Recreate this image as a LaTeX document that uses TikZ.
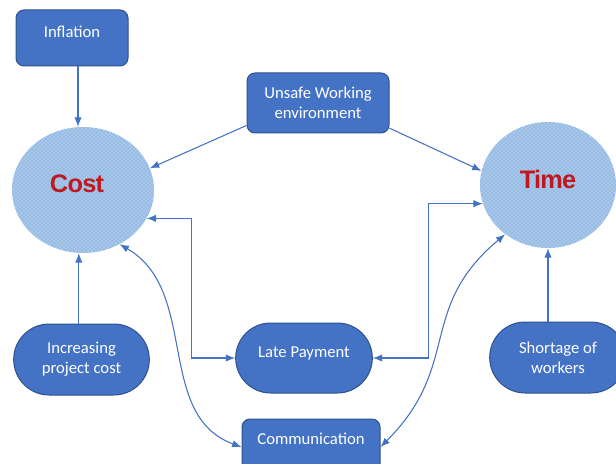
\documentclass[tikz,border=0pt]{standalone}
\usepackage{fontspec}
\setmainfont{Carlito}
\newfontfamily\bigfont[LetterSpace=-3]{Liberation Sans}
\usetikzlibrary{shapes.geometric,shapes.misc,arrows.meta,patterns}

\definecolor{boxblue}{RGB}{68,114,196}
\definecolor{boxedge}{RGB}{47,82,143}
\definecolor{ballblue}{RGB}{150,188,228}
\definecolor{darkred}{RGB}{192,24,32}

\tikzset{
  box/.style={draw=boxedge,fill=boxblue,line width=0.75pt,text=white,rounded corners=6pt,
    align=center,inner sep=2pt,font=\fontsize{12.5}{15}\selectfont},
  pill/.style={box,rounded corners=0pt,rounded rectangle},
  ball/.style={ellipse,fill=ballblue,inner sep=0pt,
    postaction={pattern=crosshatch dots,pattern color=white!80!ballblue},
    text=darkred,font=\bigfont\bfseries\fontsize{19}{22}\selectfont},
  conn/.style={draw=boxblue,line width=0.8pt,-{Latex[length=7pt,width=5.5pt]}},
  both/.style={conn,{Latex[length=7pt,width=5.5pt]}-{Latex[length=7pt,width=5.5pt]}}
}

\begin{document}
\begin{tikzpicture}[x=0.75pt,y=-0.75pt]
	\useasboundingbox (0,0) rectangle (616,463);
	% the two outcomes
	\node [ball,minimum width=106.5pt,minimum height=94.5pt] (cost) at (83,190) {\raisebox{10pt}{Cost\hspace*{9pt}}};
	\node [ball,minimum width=102pt,minimum height=94.5pt] (time) at (548,185) {\raisebox{8pt}{Time}};
	% causes
	\node [box,minimum width=84pt,minimum height=42pt] (infl) at (72,38) {\raisebox{9pt}{Inflation}};
	\node [box,minimum width=106.5pt,minimum height=45pt] (unsafe) at (318,103) {Unsafe Working\\environment};
	\node [pill,minimum width=105.75pt,minimum height=53.25pt] (incr) at (81.5,359.5) {Increasing\\project cost};
	\node [pill,minimum width=106.5pt,minimum height=52.5pt] (late) at (304,358) {\raisebox{9pt}{Late Payment}};
	\node [pill,minimum width=106.5pt,minimum height=53.25pt] (short) at (558,357.5) {Shortage of\\workers};
	\node [box,minimum width=103.5pt,minimum height=42pt] (comm) at (311,447) {\raisebox{13pt}{Communication}};
	% links
	\draw [conn] ([xshift=4.5pt]infl.south) -- ([xshift=-3.75pt]cost.north);
	\draw [conn] ([yshift=6pt]unsafe.south west) -- (cost.18);
	\draw [conn] ([yshift=4pt]unsafe.south east) -- (time.168);
	\draw [conn] ([xshift=-2pt]incr.north) -- ([xshift=-2pt]incr.north |- cost.south);
	\draw [conn] (short.north -| time.south) -- (time.south);
	\draw [both] (cost.-24) -| ([xshift=-33pt]late.west) -- (late.west);
	\draw [both] (late.east) -- ([xshift=42pt]late.east) |- (time.196);
	\draw [both] (cost.-56) to[out=-30,in=160] (comm.west);
	\draw [both] (comm.east) to[out=45,in=-140,looseness=1.2] (time.-131);
\end{tikzpicture}
\end{document}
